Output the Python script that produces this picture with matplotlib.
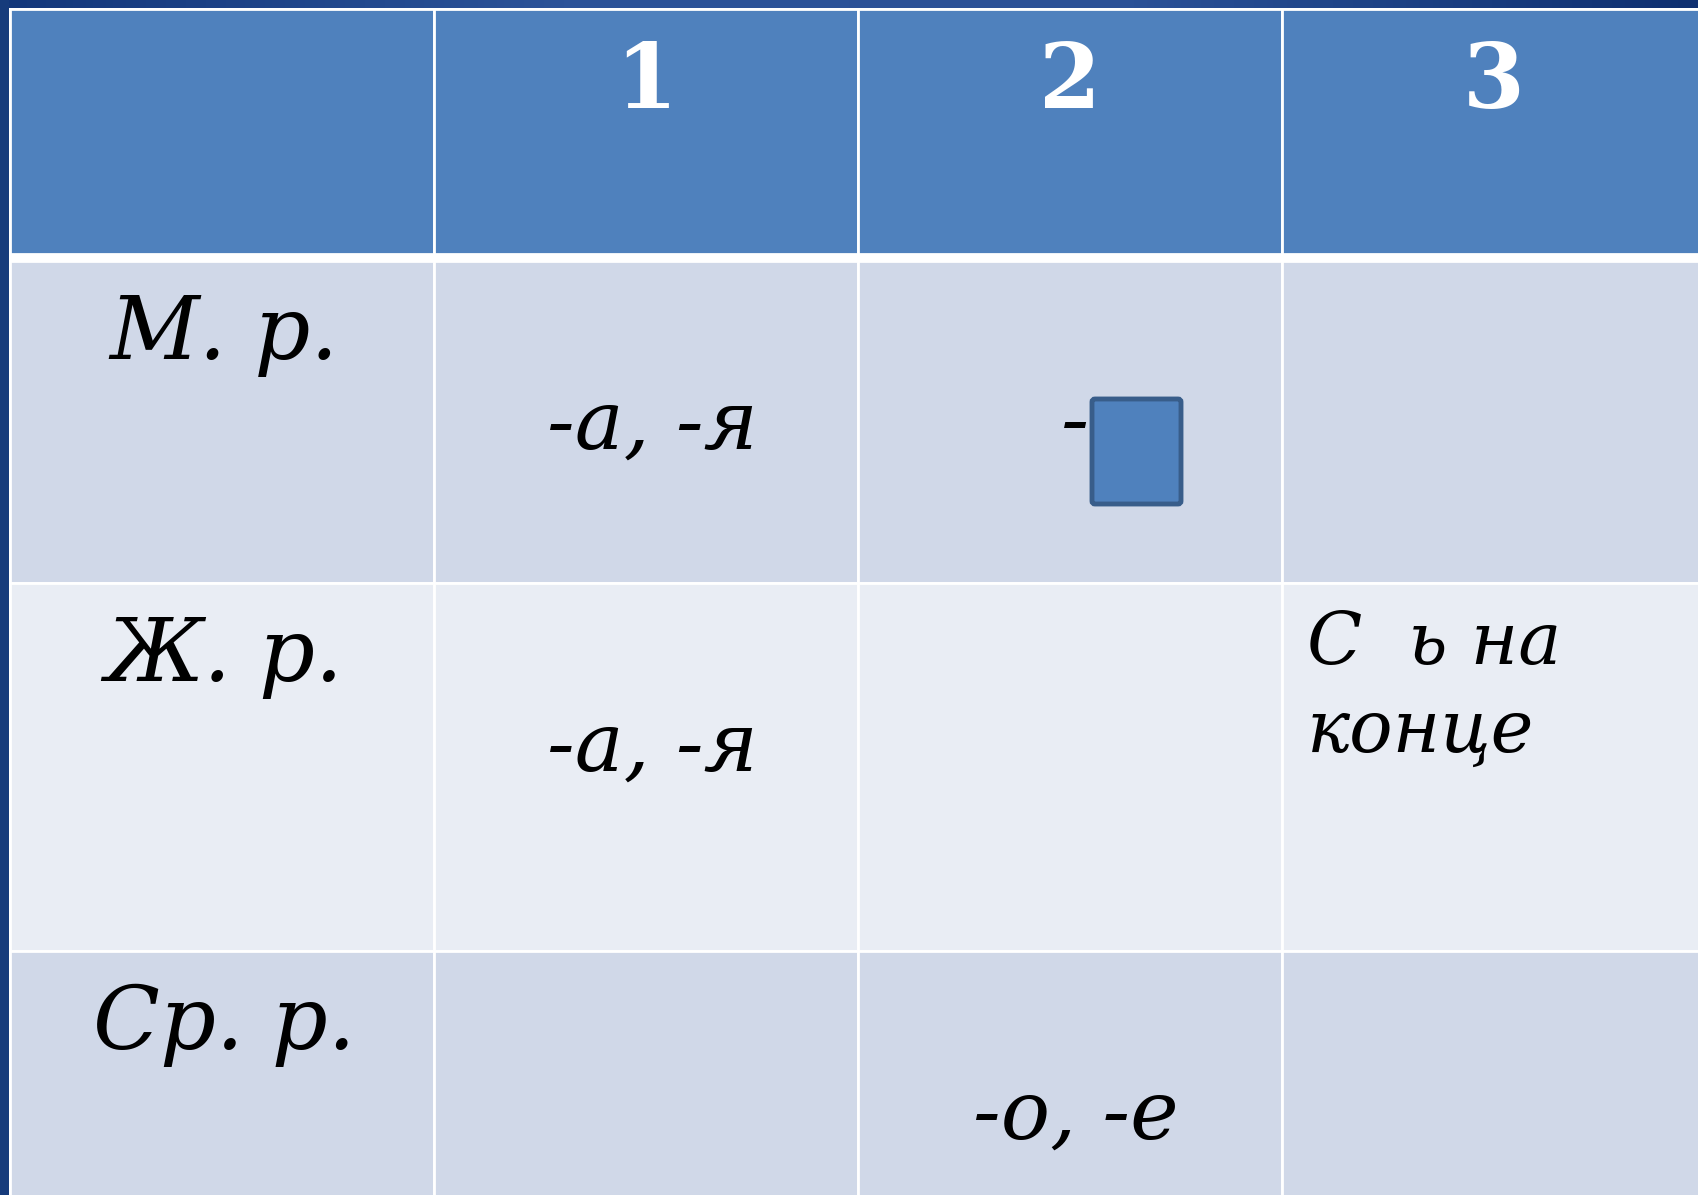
import numpy as np
import matplotlib.pyplot as plt
from matplotlib.patches import Rectangle, FancyBboxPatch
from matplotlib.colors import LinearSegmentedColormap

# --- table content ---
col_labels = ["", "1", "2", "3"]
row_labels = ["М. р.", "Ж. р.", "Ср. р."]
cells = [
    ["-а, -я", "-", ""],
    ["-а, -я", "", ""],
    ["", "-о, -е", ""],
]
note_lines = ["С  ь на", "конце"]   # text in row 2, column 3

# --- layout (pixels) ---
W, H = 1698, 1195
col_edges = [10, 434, 858, 1282, 1706]
head_top, head_bot = 9, 254
row_edges = [261, 583, 951, 1320]

header_color = "#4F81BD"
row_colors = ["#D0D8E8", "#E9EDF4", "#D0D8E8"]

fig = plt.figure(figsize=(W / 100, H / 100), dpi=100)
ax = fig.add_axes([0, 0, 1, 1])
ax.set_xlim(0, W)
ax.set_ylim(H, 0)
ax.axis("off")
fig.patch.set_facecolor("white")

# dark slide frame: top band with gradient and left strip
band = LinearSegmentedColormap.from_list("band", ["#13377a", "#2c5399", "#2b5197", "#0f3070"])
ax.imshow(np.linspace(0, 1, 256)[None, :], cmap=band, extent=[0, W, 8, 0], aspect="auto", zorder=0)
ax.add_patch(Rectangle((0, 0), 9, H, color="#163b7b", zorder=1, lw=0))

# header cells
for i in range(4):
    x0, x1 = col_edges[i], col_edges[i + 1]
    ax.add_patch(Rectangle((x0, head_top), x1 - x0, head_bot - head_top,
                           facecolor=header_color, edgecolor="white", lw=2, zorder=2))
    if col_labels[i]:
        ax.text((x0 + x1) / 2, 108, col_labels[i], color="white", fontsize=64,
                family="DejaVu Serif", weight="bold", ha="center", va="baseline", zorder=5)

# body cells
for r in range(3):
    y0, y1 = row_edges[r], row_edges[r + 1]
    for c in range(4):
        x0, x1 = col_edges[c], col_edges[c + 1]
        ax.add_patch(Rectangle((x0, y0), x1 - x0, y1 - y0,
                               facecolor=row_colors[r], edgecolor="white", lw=2, zorder=2))
    ax.text((col_edges[0] + col_edges[1]) / 2 + 2, y0 + 98, row_labels[r], fontsize=63,
            family="DejaVu Serif", style="italic", ha="center", va="baseline", zorder=5)
    for c, txt in enumerate(cells[r]):
        if not txt:
            continue
        x0, x1 = col_edges[c + 1], col_edges[c + 2]
        if txt == "-":
            # dash followed by a blank box to fill in
            ax.text(1089, y0 + 186, txt, fontsize=60, family="DejaVu Serif", style="italic",
                    ha="right", va="baseline", zorder=5)
            ax.add_patch(FancyBboxPatch((1092, 399), 89, 105, boxstyle="round,pad=0,rounding_size=3",
                                        facecolor=header_color, edgecolor="#385D8A", lw=3.5, zorder=4))
        else:
            ax.text((x0 + x1) / 2 + 6, y0 + 188, txt, fontsize=59, family="DejaVu Serif",
                    style="italic", ha="center", va="baseline", zorder=5)

# note in row 2, column 3
for k, line in enumerate(note_lines):
    ax.text(col_edges[3] + 25, 664 + 88 * k, line, fontsize=52, family="DejaVu Serif",
            style="italic", ha="left", va="baseline", zorder=5)

# thick white separator under the header
ax.add_patch(Rectangle((col_edges[0], head_bot), W, row_edges[0] - head_bot,
                       color="white", lw=0, zorder=3))

fig.savefig("out.png", dpi=100)
